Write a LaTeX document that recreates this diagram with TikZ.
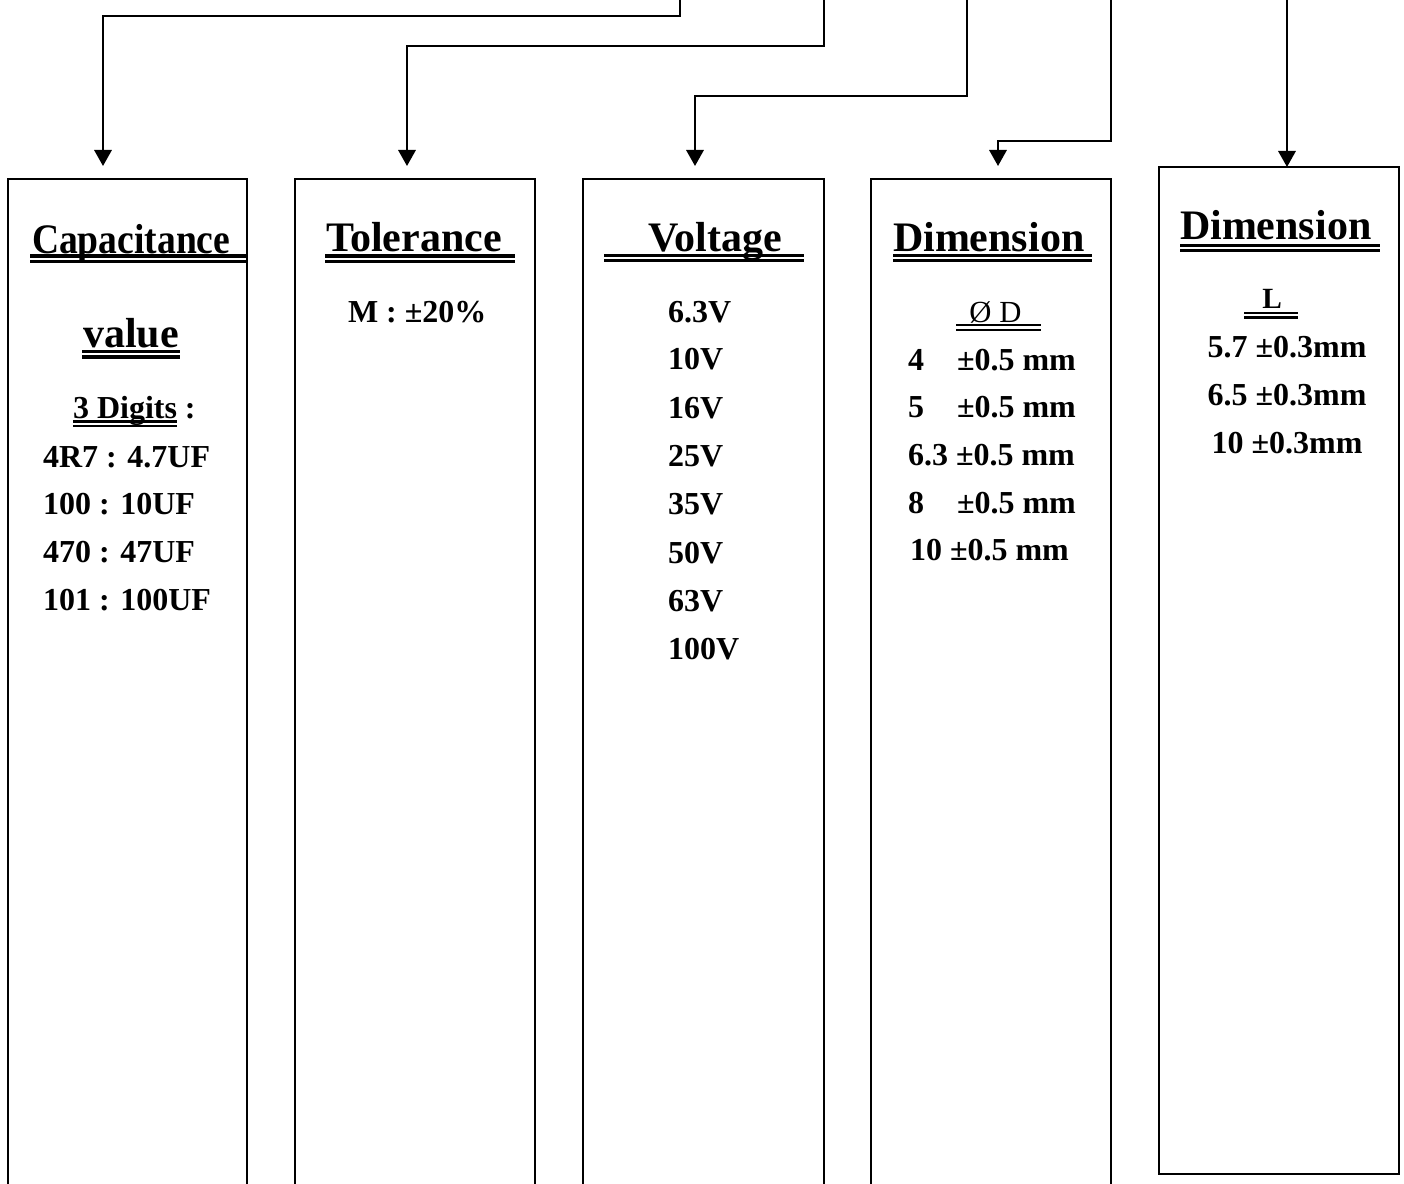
\documentclass[tikz,border=0pt]{standalone}
\usepackage{fontspec}
\setmainfont{Liberation Serif}
\usepackage{graphicx}
\usetikzlibrary{arrows.meta,calc,fit}
\begin{document}
\begin{tikzpicture}[x=0.75pt,y=-0.75pt,
  box/.style={draw,line width=1.7pt,rectangle,inner sep=0pt,outer sep=0pt},
  arr/.style={line width=1.7pt,-{Triangle[width=13pt,length=12pt]}},
  hdr/.style={font=\fontsize{31.5pt}{36pt}\selectfont\bfseries,inner sep=0pt,outer sep=0pt,anchor=base west},
  txt/.style={font=\fontsize{24pt}{28pt}\selectfont\bfseries,inner sep=0pt,outer sep=0pt,anchor=base west},
  txtc/.style={txt,anchor=base},
  ul/.style={line width=2.4pt},
  ulthin/.style={line width=1.8pt}]
\useasboundingbox (0,0) rectangle (1404,1184);
\clip (0,0) rectangle (1404,1184);
\fill[white] (0,0) rectangle (1404,1184);

% boxes
\node[box,fit={(8,179) (247,1196)}] (b1) {};
\node[box,fit={(295,179) (535,1196)}] (b2) {};
\node[box,fit={(583,179) (824,1196)}] (b3) {};
\node[box,fit={(871,179) (1111,1196)}] (b4) {};
\node[box,fit={(1159,167) (1399,1174)}] (b5) {};

% connectors
\coordinate (s1) at (680,0);
\coordinate (s2) at (824,0);
\coordinate (s3) at (967,0);
\coordinate (s4) at (1111,0);
\coordinate (s5) at (1287,0);
\draw[arr] (s1) -- ++(0,16) -| ($(b1.north)+(-24.5,-13)$);
\draw[arr] (s2) -- ++(0,46) -| ($(b2.north)+(-8,-13)$);
\draw[arr] (s3) -- ++(0,96) -| ($(b3.north)+(-8.5,-13)$);
\draw[arr] (s4) -- ++(0,141) -| ($(b4.north)+(7,-13)$);
\draw[arr] (s5) -- ($(b5.north)+(8,0)$);

% box 1
\node[hdr] (h1) at (32,253) {\scalebox{0.895}[1]{Capacitance}};
\draw[ul] (30,256) -- (247,256) (30,261.5) -- (247,261.5);
\node[hdr] (h1b) at (83,347) {value};
\draw[ul] (82,351.5) -- (180,351.5) (82,357) -- (180,357);
\node[txt] (d1) at (73,418) {3 Digits :};
\draw[ulthin] (73,421.3) -- (177,421.3) (73,425.7) -- (177,425.7);
\node[txt] (c1) at (43,467) {4R7 : 4.7UF};
\node[txt] (c2) at (43,514) {100 : 10UF};
\node[txt] (c3) at (43,562) {470 : 47UF};
\node[txt] (c4) at (43,610) {101 : 100UF};

% box 2
\node[hdr] (h2) at (326,252) {Tolerance};
\draw[ul] (325,256) -- (515,256) (325,261.5) -- (515,261.5);
\node[txt] (t1) at (348,322) {M : ±20\%};

% box 3
\node[hdr] (h3) at (648,252) {Voltage};
\draw[ul] (604,255.3) -- (804,255.3) (604,260.8) -- (804,260.8);
\node[txt] (v1) at (668,322) {6.3V};
\node[txt] (v2) at (668,369) {10V};
\node[txt] (v3) at (668,418) {16V};
\node[txt] (v4) at (668,466) {25V};
\node[txt] (v5) at (668,514) {35V};
\node[txt] (v6) at (668,563) {50V};
\node[txt] (v7) at (668,611) {63V};
\node[txt] (v8) at (668,659) {100V};

% box 4
\node[hdr] (h4) at (893,252) {Dimension};
\draw[ul] (893,255.3) -- (1092,255.3) (893,260.8) -- (1092,260.8);
\node[font=\fontsize{23pt}{27pt}\selectfont,inner sep=0pt,anchor=base west] (od) at (969,322) {Ø\kern6pt D};
\draw[ulthin] (956,325) -- (1041,325) (956,330) -- (1041,330);
\node[txt] (n1) at (908,370) {4};
\node[txt] (p1) at (957,370) {±0.5 mm};
\node[txt] (n2) at (908,417) {5};
\node[txt] (p2) at (957,417) {±0.5 mm};
\node[txt] (n3) at (908,465) {6.3 ±0.5 mm};
\node[txt] (n4) at (908,513) {8};
\node[txt] (p4) at (957,513) {±0.5 mm};
\node[txt] (n5) at (910,560) {10 ±0.5 mm};

% box 5
\node[hdr] (h5) at (1180,240) {Dimension};
\draw[ul] (1180,245.5) -- (1380,245.5) (1180,250.5) -- (1380,250.5);
\node[font=\fontsize{22pt}{26pt}\selectfont\bfseries,inner sep=0pt,anchor=base west] (l5) at (1262,308) {L};
\draw[ulthin] (1244,313) -- (1298,313) (1244,317.5) -- (1298,317.5);
\node[txtc] (e1) at (1287,357) {5.7 ±0.3mm};
\node[txtc] (e2) at (1287,405) {6.5 ±0.3mm};
\node[txtc] (e3) at (1287,453) {10 ±0.3mm};
\end{tikzpicture}
\end{document}
